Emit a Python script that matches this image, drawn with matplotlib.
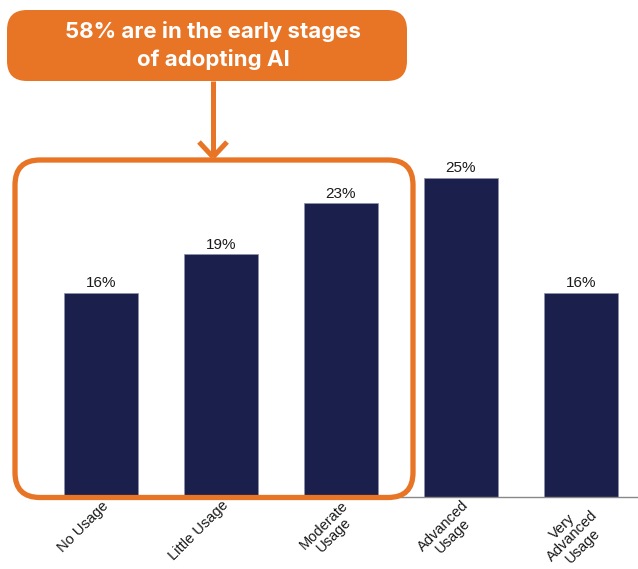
import matplotlib.pyplot as plt
from matplotlib.patches import FancyBboxPatch
from matplotlib.lines import Line2D

plt.rcParams['font.family'] = ['Liberation Sans', 'DejaVu Sans']

categories = ['No Usage', 'Little Usage', 'Moderate\nUsage', 'Advanced\nUsage', 'Very\nAdvanced\nUsage']
shares = [16, 19, 23, 25, 16]
callout = '58% are in the early stages\nof adopting AI'

navy = '#1b1f4b'
orange = '#e87425'

W, H = 638, 569
LIFT = 2  # pixels everything is raised so the last label fits
fig = plt.figure(figsize=(W / 100, H / 100), dpi=100)
ax = fig.add_axes([41 / W, (70 + LIFT) / H, (638 - 41) / W, (499 - 167) / H])

x = range(len(categories))
ax.bar(x, shares, width=0.62, color=navy, edgecolor='#8f92a8', linewidth=0.5, zorder=2)
for xi, v in zip(x, shares):
    ax.text(xi, v + 0.2, f'{v}%', ha='center', va='bottom', fontsize=11, color='#1a1a1a')

ax.set_xlim(-0.5, 4.475)
ax.set_ylim(0, 26)
ax.set_yticks([])
ax.set_xticks(list(x))
ax.set_xticklabels(categories, rotation=45, ha='right', rotation_mode='anchor',
                   multialignment='center', fontsize=10.5, color='#1a1a1a', linespacing=1.0)
ax.tick_params(axis='x', length=0, pad=1)
for s in ['top', 'left', 'right']:
    ax.spines[s].set_visible(False)
ax.spines['bottom'].set_color('#888888')
ax.spines['bottom'].set_linewidth(1)


# helpers working in pixel units (origin top-left)
def px(xp, yp):
    return xp / 100, (H - yp + LIFT) / 100


tr = fig.dpi_scale_trans

# outline around the early-stage bars
x0, y0 = px(15, 499.5)
box = FancyBboxPatch((x0 + 0.25, y0 + 0.25), (413 - 15) / 100 - 0.5, (499.5 - 162) / 100 - 0.5,
                     boxstyle='round,pad=0.25', transform=tr, fill=False,
                     edgecolor=orange, linewidth=3.8, zorder=5)
fig.add_artist(box)

# callout box
cx0, cy0 = px(7, 83)
cb = FancyBboxPatch((cx0 + 0.2, cy0 + 0.2), (407 - 7) / 100 - 0.4, (83 - 12) / 100 - 0.4,
                    boxstyle='round,pad=0.2', transform=tr, facecolor=orange,
                    edgecolor='none', zorder=5)
fig.add_artist(cb)
tx, ty = px(213, 47.5)
fig.text(tx, ty, callout, transform=tr, ha='center', va='center', color='white',
         fontsize=16, fontweight='bold', family=['Inter', 'DejaVu Sans'],
         linespacing=1.4, zorder=6)

# arrow from callout down to the outline
for (xa, ya), (xb, yb) in [((213, 83), (213, 159)), ((199, 144), (213, 159)), ((227, 144), (213, 159))]:
    p1, p2 = px(xa, ya), px(xb, yb)
    fig.add_artist(Line2D([p1[0], p2[0]], [p1[1], p2[1]], transform=tr, color=orange,
                          linewidth=3.6, solid_capstyle='butt', zorder=5))

fig.savefig('out.png', dpi=100)
